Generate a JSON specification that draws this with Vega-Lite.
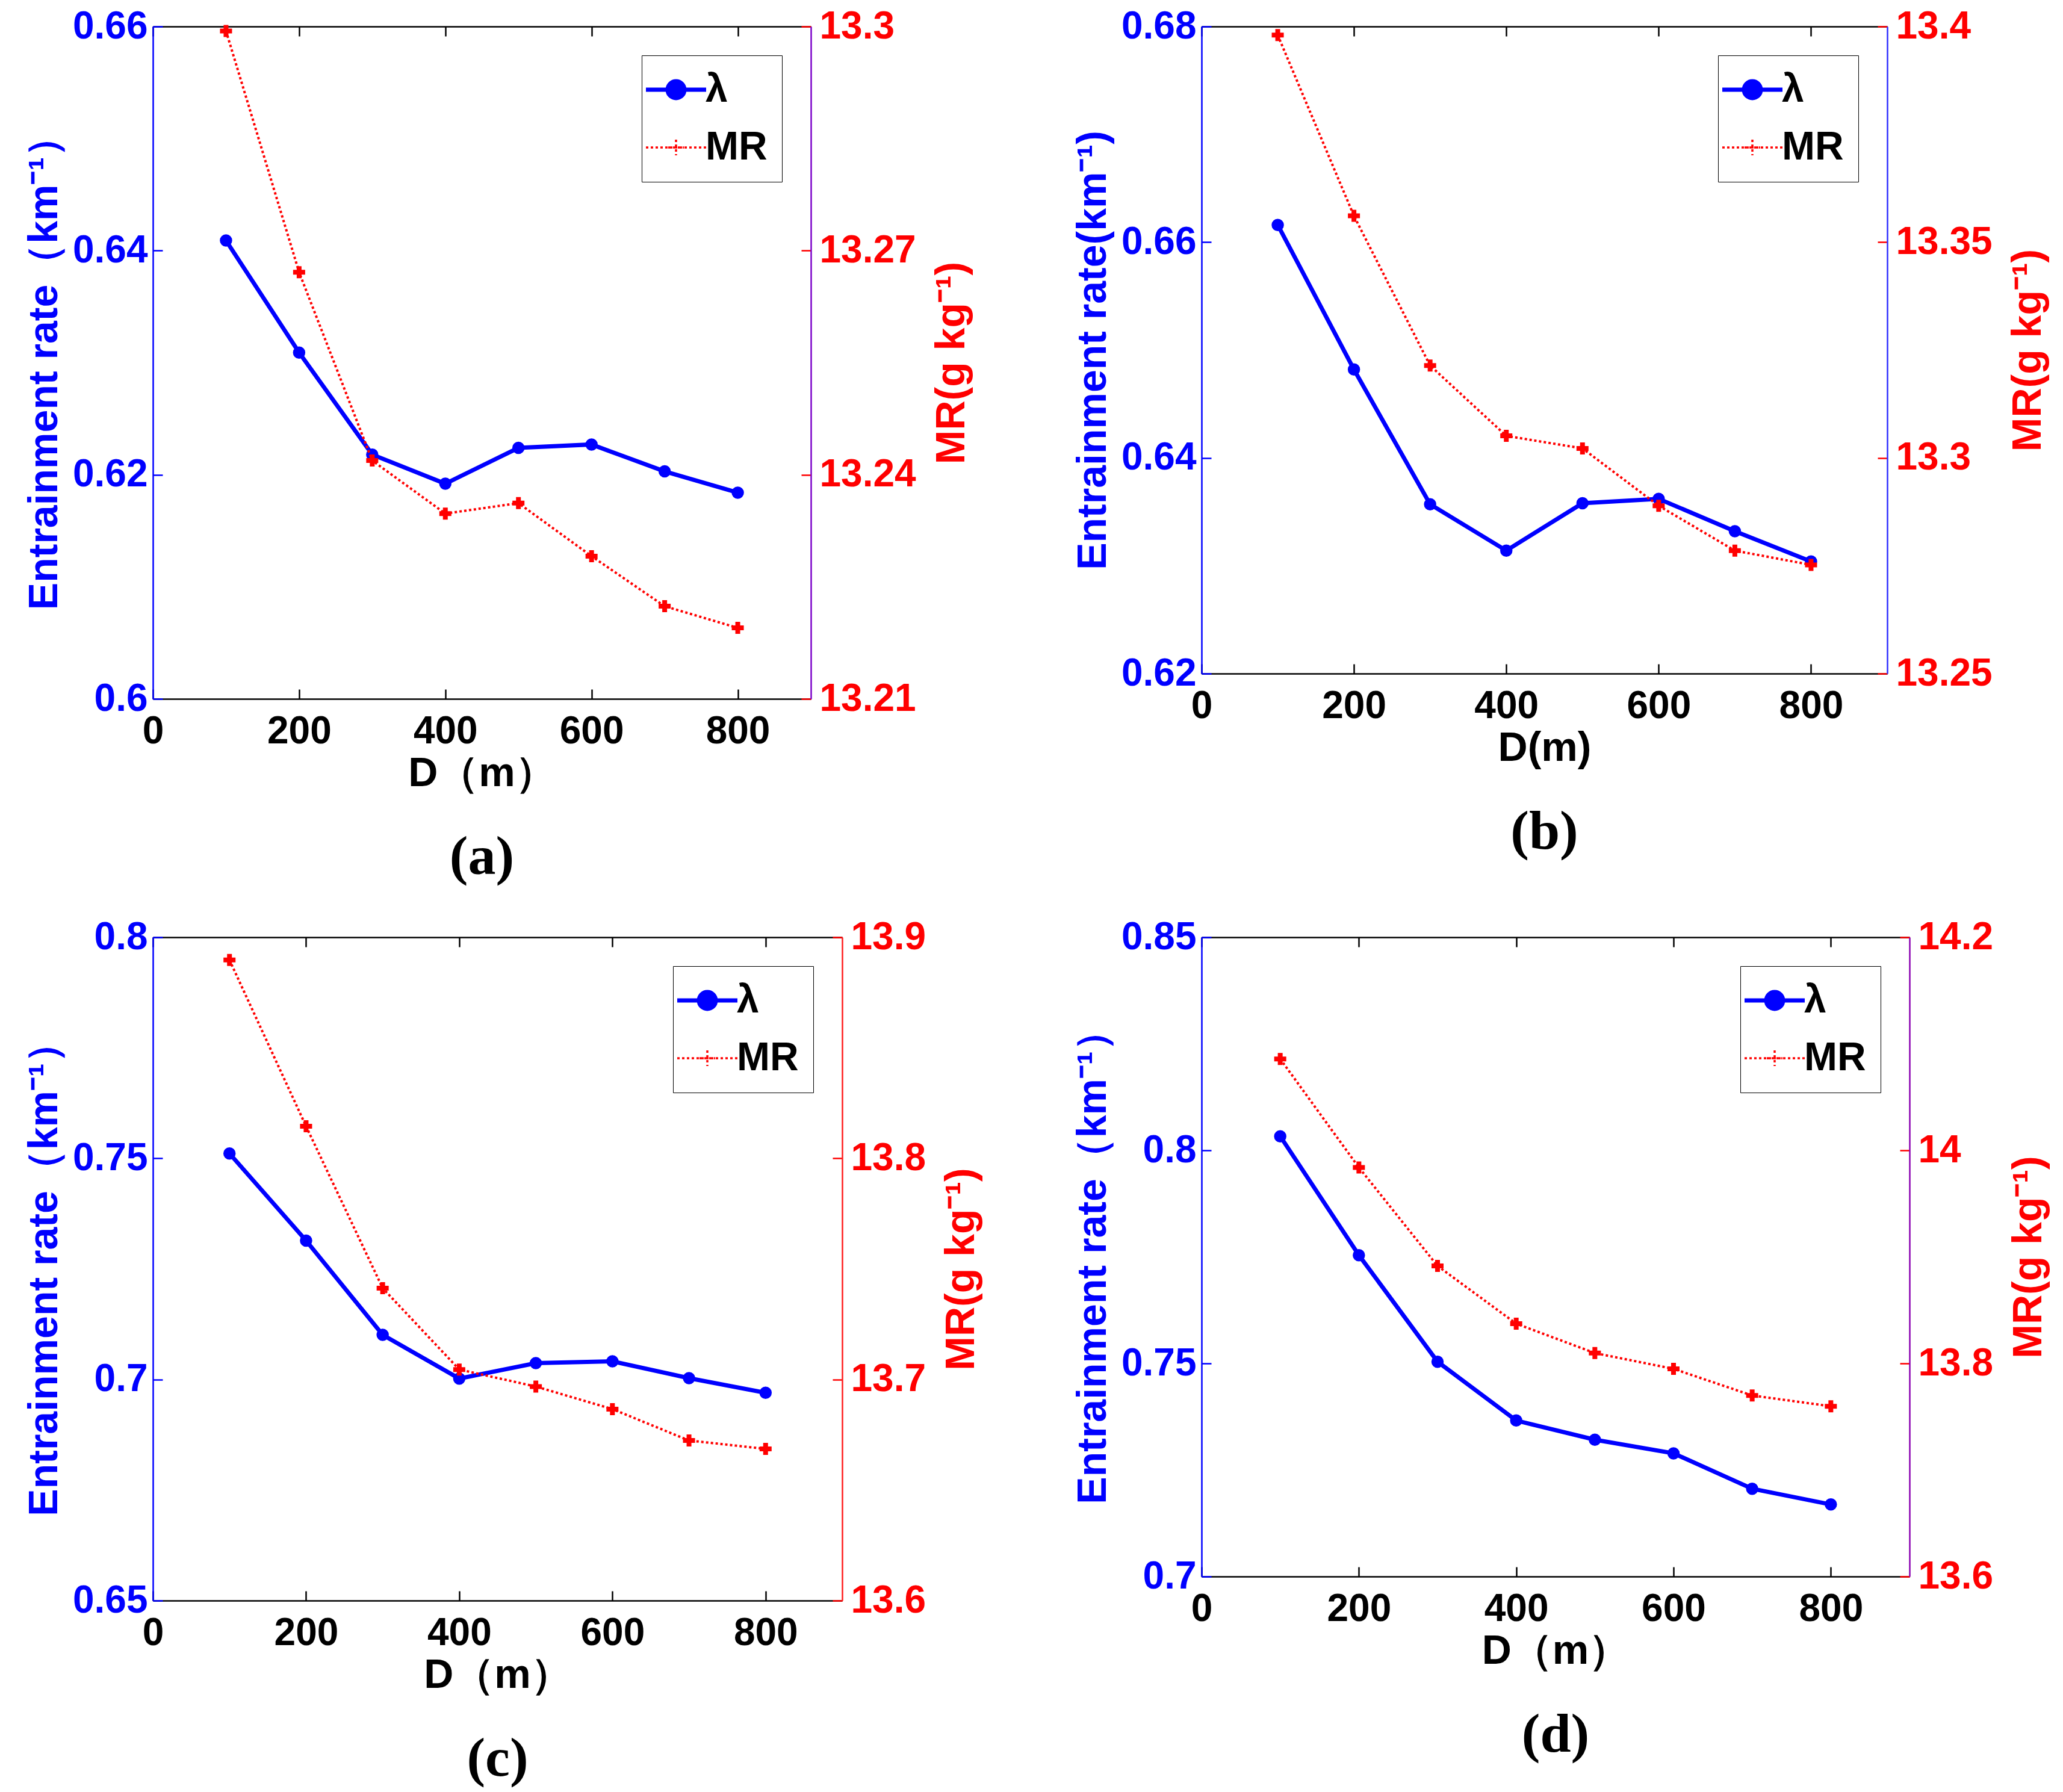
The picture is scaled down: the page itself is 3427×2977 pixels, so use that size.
{
  "$schema": "https://vega.github.io/schema/vega-lite/v6.json",
  "background": "#ffffff",
  "padding": {"left": 40, "top": 12, "right": 20, "bottom": 10},
  "config": {
    "view": {"stroke": null},
    "axis": {
      "grid": false,
      "labelFont": "Liberation Sans",
      "labelFontWeight": "bold",
      "labelFontSize": 64,
      "titleFont": "Liberation Sans",
      "titleFontWeight": "bold",
      "titleFontSize": 68,
      "tickSize": -16,
      "tickWidth": 2.5,
      "domainWidth": 2.5,
      "labelFlush": false,
      "labelOverlap": false
    },
    "title": {
      "font": "Liberation Serif",
      "fontWeight": "bold",
      "fontSize": 92,
      "color": "#000000",
      "orient": "bottom",
      "anchor": "middle",
      "frame": "group",
      "offset": 60
    },
    "legend": {
      "title": null,
      "orient": "top-right",
      "offset": 48,
      "padding": 24,
      "strokeColor": "#000000",
      "fillColor": "#ffffff",
      "labelFont": "Liberation Sans",
      "labelFontWeight": "bold",
      "labelFontSize": 66,
      "labelColor": "#000000",
      "symbolSize": 10000,
      "symbolStrokeWidth": 5,
      "rowPadding": 30,
      "labelOffset": 16
    }
  },
  "data": {
    "values": [
      {"panel": "a", "D": 100, "series": "λ", "value": 0.6409},
      {"panel": "a", "D": 200, "series": "λ", "value": 0.6309},
      {"panel": "a", "D": 300, "series": "λ", "value": 0.6218},
      {"panel": "a", "D": 400, "series": "λ", "value": 0.6192},
      {"panel": "a", "D": 500, "series": "λ", "value": 0.6224},
      {"panel": "a", "D": 600, "series": "λ", "value": 0.6227},
      {"panel": "a", "D": 700, "series": "λ", "value": 0.6203},
      {"panel": "a", "D": 800, "series": "λ", "value": 0.6184},
      {"panel": "a", "D": 100, "series": "MR", "value": 13.2994},
      {"panel": "a", "D": 200, "series": "MR", "value": 13.2671},
      {"panel": "a", "D": 300, "series": "MR", "value": 13.2419},
      {"panel": "a", "D": 400, "series": "MR", "value": 13.2348},
      {"panel": "a", "D": 500, "series": "MR", "value": 13.2362},
      {"panel": "a", "D": 600, "series": "MR", "value": 13.2291},
      {"panel": "a", "D": 700, "series": "MR", "value": 13.2224},
      {"panel": "a", "D": 800, "series": "MR", "value": 13.2195},
      {"panel": "b", "D": 100, "series": "λ", "value": 0.6616},
      {"panel": "b", "D": 200, "series": "λ", "value": 0.6482},
      {"panel": "b", "D": 300, "series": "λ", "value": 0.6357},
      {"panel": "b", "D": 400, "series": "λ", "value": 0.6314},
      {"panel": "b", "D": 500, "series": "λ", "value": 0.6358},
      {"panel": "b", "D": 600, "series": "λ", "value": 0.6362},
      {"panel": "b", "D": 700, "series": "λ", "value": 0.6332},
      {"panel": "b", "D": 800, "series": "λ", "value": 0.6304},
      {"panel": "b", "D": 100, "series": "MR", "value": 13.398},
      {"panel": "b", "D": 200, "series": "MR", "value": 13.3561},
      {"panel": "b", "D": 300, "series": "MR", "value": 13.3214},
      {"panel": "b", "D": 400, "series": "MR", "value": 13.3051},
      {"panel": "b", "D": 500, "series": "MR", "value": 13.3022},
      {"panel": "b", "D": 600, "series": "MR", "value": 13.2889},
      {"panel": "b", "D": 700, "series": "MR", "value": 13.2785},
      {"panel": "b", "D": 800, "series": "MR", "value": 13.2752},
      {"panel": "c", "D": 100, "series": "λ", "value": 0.7511},
      {"panel": "c", "D": 200, "series": "λ", "value": 0.7314},
      {"panel": "c", "D": 300, "series": "λ", "value": 0.7101},
      {"panel": "c", "D": 400, "series": "λ", "value": 0.7002},
      {"panel": "c", "D": 500, "series": "λ", "value": 0.7037},
      {"panel": "c", "D": 600, "series": "λ", "value": 0.7041},
      {"panel": "c", "D": 700, "series": "λ", "value": 0.7003},
      {"panel": "c", "D": 800, "series": "λ", "value": 0.697},
      {"panel": "c", "D": 100, "series": "MR", "value": 13.8897},
      {"panel": "c", "D": 200, "series": "MR", "value": 13.8145},
      {"panel": "c", "D": 300, "series": "MR", "value": 13.7413},
      {"panel": "c", "D": 400, "series": "MR", "value": 13.7045},
      {"panel": "c", "D": 500, "series": "MR", "value": 13.6968},
      {"panel": "c", "D": 600, "series": "MR", "value": 13.6866},
      {"panel": "c", "D": 700, "series": "MR", "value": 13.6724},
      {"panel": "c", "D": 800, "series": "MR", "value": 13.6686},
      {"panel": "d", "D": 100, "series": "λ", "value": 0.8033},
      {"panel": "d", "D": 200, "series": "λ", "value": 0.7754},
      {"panel": "d", "D": 300, "series": "λ", "value": 0.7504},
      {"panel": "d", "D": 400, "series": "λ", "value": 0.7366},
      {"panel": "d", "D": 500, "series": "λ", "value": 0.7321},
      {"panel": "d", "D": 600, "series": "λ", "value": 0.7289},
      {"panel": "d", "D": 700, "series": "λ", "value": 0.7206},
      {"panel": "d", "D": 800, "series": "λ", "value": 0.7169},
      {"panel": "d", "D": 100, "series": "MR", "value": 14.0858},
      {"panel": "d", "D": 200, "series": "MR", "value": 13.9839},
      {"panel": "d", "D": 300, "series": "MR", "value": 13.8915},
      {"panel": "d", "D": 400, "series": "MR", "value": 13.8373},
      {"panel": "d", "D": 500, "series": "MR", "value": 13.8097},
      {"panel": "d", "D": 600, "series": "MR", "value": 13.7949},
      {"panel": "d", "D": 700, "series": "MR", "value": 13.7699},
      {"panel": "d", "D": 800, "series": "MR", "value": 13.7598}
    ]
  },
  "columns": 2,
  "spacing": {"row": 55, "column": 150},
  "resolve": {"scale": {"color": "independent"}, "legend": {"color": "independent"}},
  "concat": [
    {
      "width": 1093,
      "height": 1117,
      "title": {"text": "(a)"},
      "transform": [{"filter": "datum.panel === 'a'"}],
      "layer": [
        {
          "transform": [{"filter": "datum.series === 'λ'"}],
          "mark": {"type": "line", "strokeWidth": 7, "point": {"filled": true, "size": 420}},
          "encoding": {
            "x": {"field": "D", "type": "quantitative", "scale": {"domain": [0, 900]},
              "axis": {"orient": "bottom", "values": [0, 200, 400, 600, 800], "title": "D（m）", "labelColor": "#000000", "domainColor": "#000000", "tickColor": "#000000", "titleColor": "#000000", "labelPadding": 38, "titlePadding": 4}},
            "y": {"field": "value", "type": "quantitative", "scale": {"domain": [0.6, 0.66], "zero": false},
              "axis": {"orient": "left", "values": [0.6, 0.62, 0.64, 0.66], "format": "~g", "title": "Entrainment rate（km⁻¹）", "titleColor": "#0000ff", "labelColor": "#0000ff", "domainColor": "#0000ff", "tickColor": "#0000ff", "labelPadding": 25, "titlePadding": 12}},
            "color": {"field": "series", "type": "nominal", "scale": {"domain": ["λ", "MR"], "range": ["#0000ff", "#ff0000"]},
              "legend": {"encode": {"symbols": {"update": {
                "shape": {"signal": "datum.value === 'λ' ? 'M-1,0H1M-0.28,0A0.28,0.28,0,1,0,0.28,0A0.28,0.28,0,1,0,-0.28,0Z' : 'M-1,0H1M-0.26,0H0.26M0,-0.26V0.26'"},
                "strokeDash": {"signal": "datum.value === 'MR' ? [4, 4] : []"},
                "strokeWidth": {"signal": "datum.value === 'MR' ? 3.5 : 7"},
                "fill": {"signal": "datum.value === 'λ' ? '#0000ff' : 'transparent'"}}}}}}
          }
        },
        {
          "transform": [{"filter": "datum.series === 'MR'"}],
          "mark": {"type": "line", "strokeWidth": 4, "strokeDash": [4, 4], "point": {"shape": "cross", "filled": true, "size": 400}},
          "encoding": {
            "x": {"field": "D", "type": "quantitative",
              "axis": {"orient": "top", "values": [0, 200, 400, 600, 800], "labels": false, "title": null, "domainColor": "#000000", "tickColor": "#000000"}},
            "y": {"field": "value", "type": "quantitative", "scale": {"domain": [13.21, 13.3], "zero": false},
              "axis": {"orient": "right", "values": [13.21, 13.24, 13.27, 13.3], "format": "~g", "title": "MR(g kg⁻¹)", "titleAngle": 270, "titleBaseline": "top", "titleColor": "#ff0000", "labelColor": "#ff0000", "domainColor": "#7a00c8", "tickColor": "#ff0000", "labelPadding": 30, "titlePadding": 26}},
            "color": {"field": "series", "type": "nominal"}
          }
        }
      ],
      "resolve": {"scale": {"y": "independent"}, "axis": {"x": "independent"}}
    },
    {
      "width": 1139,
      "height": 1075,
      "title": {"text": "(b)"},
      "transform": [{"filter": "datum.panel === 'b'"}],
      "layer": [
        {
          "transform": [{"filter": "datum.series === 'λ'"}],
          "mark": {"type": "line", "strokeWidth": 7, "point": {"filled": true, "size": 420}},
          "encoding": {
            "x": {"field": "D", "type": "quantitative", "scale": {"domain": [0, 900]},
              "axis": {"orient": "bottom", "values": [0, 200, 400, 600, 800], "title": "D(m)", "labelColor": "#000000", "domainColor": "#000000", "tickColor": "#000000", "titleColor": "#000000", "labelPadding": 38, "titlePadding": 4}},
            "y": {"field": "value", "type": "quantitative", "scale": {"domain": [0.62, 0.68], "zero": false},
              "axis": {"orient": "left", "values": [0.62, 0.64, 0.66, 0.68], "format": "~g", "title": "Entrainment rate(km⁻¹)", "titleColor": "#0000ff", "labelColor": "#0000ff", "domainColor": "#0000ff", "tickColor": "#0000ff", "labelPadding": 25, "titlePadding": 12}},
            "color": {"field": "series", "type": "nominal", "scale": {"domain": ["λ", "MR"], "range": ["#0000ff", "#ff0000"]},
              "legend": {"encode": {"symbols": {"update": {
                "shape": {"signal": "datum.value === 'λ' ? 'M-1,0H1M-0.28,0A0.28,0.28,0,1,0,0.28,0A0.28,0.28,0,1,0,-0.28,0Z' : 'M-1,0H1M-0.26,0H0.26M0,-0.26V0.26'"},
                "strokeDash": {"signal": "datum.value === 'MR' ? [4, 4] : []"},
                "strokeWidth": {"signal": "datum.value === 'MR' ? 3.5 : 7"},
                "fill": {"signal": "datum.value === 'λ' ? '#0000ff' : 'transparent'"}}}}}}
          }
        },
        {
          "transform": [{"filter": "datum.series === 'MR'"}],
          "mark": {"type": "line", "strokeWidth": 4, "strokeDash": [4, 4], "point": {"shape": "cross", "filled": true, "size": 400}},
          "encoding": {
            "x": {"field": "D", "type": "quantitative",
              "axis": {"orient": "top", "values": [0, 200, 400, 600, 800], "labels": false, "title": null, "domainColor": "#000000", "tickColor": "#000000"}},
            "y": {"field": "value", "type": "quantitative", "scale": {"domain": [13.25, 13.4], "zero": false},
              "axis": {"orient": "right", "values": [13.25, 13.3, 13.35, 13.4], "format": "~g", "title": "MR(g kg⁻¹)", "titleAngle": 270, "titleBaseline": "top", "titleColor": "#ff0000", "labelColor": "#ff0000", "domainColor": "#3030ff", "tickColor": "#ff0000", "labelPadding": 30, "titlePadding": 26}},
            "color": {"field": "series", "type": "nominal"}
          }
        }
      ],
      "resolve": {"scale": {"y": "independent"}, "axis": {"x": "independent"}}
    },
    {
      "width": 1145,
      "height": 1102,
      "title": {"text": "(c)"},
      "transform": [{"filter": "datum.panel === 'c'"}],
      "layer": [
        {
          "transform": [{"filter": "datum.series === 'λ'"}],
          "mark": {"type": "line", "strokeWidth": 7, "point": {"filled": true, "size": 420}},
          "encoding": {
            "x": {"field": "D", "type": "quantitative", "scale": {"domain": [0, 900]},
              "axis": {"orient": "bottom", "values": [0, 200, 400, 600, 800], "title": "D（m）", "labelColor": "#000000", "domainColor": "#000000", "tickColor": "#000000", "titleColor": "#000000", "labelPadding": 38, "titlePadding": 4}},
            "y": {"field": "value", "type": "quantitative", "scale": {"domain": [0.65, 0.8], "zero": false},
              "axis": {"orient": "left", "values": [0.65, 0.7, 0.75, 0.8], "format": "~g", "title": "Entrainment rate（km⁻¹）", "titleColor": "#0000ff", "labelColor": "#0000ff", "domainColor": "#0000ff", "tickColor": "#0000ff", "labelPadding": 25, "titlePadding": 12}},
            "color": {"field": "series", "type": "nominal", "scale": {"domain": ["λ", "MR"], "range": ["#0000ff", "#ff0000"]},
              "legend": {"encode": {"symbols": {"update": {
                "shape": {"signal": "datum.value === 'λ' ? 'M-1,0H1M-0.28,0A0.28,0.28,0,1,0,0.28,0A0.28,0.28,0,1,0,-0.28,0Z' : 'M-1,0H1M-0.26,0H0.26M0,-0.26V0.26'"},
                "strokeDash": {"signal": "datum.value === 'MR' ? [4, 4] : []"},
                "strokeWidth": {"signal": "datum.value === 'MR' ? 3.5 : 7"},
                "fill": {"signal": "datum.value === 'λ' ? '#0000ff' : 'transparent'"}}}}}}
          }
        },
        {
          "transform": [{"filter": "datum.series === 'MR'"}],
          "mark": {"type": "line", "strokeWidth": 4, "strokeDash": [4, 4], "point": {"shape": "cross", "filled": true, "size": 400}},
          "encoding": {
            "x": {"field": "D", "type": "quantitative",
              "axis": {"orient": "top", "values": [0, 200, 400, 600, 800], "labels": false, "title": null, "domainColor": "#000000", "tickColor": "#000000"}},
            "y": {"field": "value", "type": "quantitative", "scale": {"domain": [13.6, 13.9], "zero": false},
              "axis": {"orient": "right", "values": [13.6, 13.7, 13.8, 13.9], "format": "~g", "title": "MR(g kg⁻¹)", "titleAngle": 270, "titleBaseline": "top", "titleColor": "#ff0000", "labelColor": "#ff0000", "domainColor": "#ff2020", "tickColor": "#ff0000", "labelPadding": 30, "titlePadding": 26}},
            "color": {"field": "series", "type": "nominal"}
          }
        }
      ],
      "resolve": {"scale": {"y": "independent"}, "axis": {"x": "independent"}}
    },
    {
      "width": 1176,
      "height": 1062,
      "title": {"text": "(d)"},
      "transform": [{"filter": "datum.panel === 'd'"}],
      "layer": [
        {
          "transform": [{"filter": "datum.series === 'λ'"}],
          "mark": {"type": "line", "strokeWidth": 7, "point": {"filled": true, "size": 420}},
          "encoding": {
            "x": {"field": "D", "type": "quantitative", "scale": {"domain": [0, 900]},
              "axis": {"orient": "bottom", "values": [0, 200, 400, 600, 800], "title": "D（m）", "labelColor": "#000000", "domainColor": "#000000", "tickColor": "#000000", "titleColor": "#000000", "labelPadding": 38, "titlePadding": 4}},
            "y": {"field": "value", "type": "quantitative", "scale": {"domain": [0.7, 0.85], "zero": false},
              "axis": {"orient": "left", "values": [0.7, 0.75, 0.8, 0.85], "format": "~g", "title": "Entrainment rate（km⁻¹）", "titleColor": "#0000ff", "labelColor": "#0000ff", "domainColor": "#0000ff", "tickColor": "#0000ff", "labelPadding": 25, "titlePadding": 12}},
            "color": {"field": "series", "type": "nominal", "scale": {"domain": ["λ", "MR"], "range": ["#0000ff", "#ff0000"]},
              "legend": {"encode": {"symbols": {"update": {
                "shape": {"signal": "datum.value === 'λ' ? 'M-1,0H1M-0.28,0A0.28,0.28,0,1,0,0.28,0A0.28,0.28,0,1,0,-0.28,0Z' : 'M-1,0H1M-0.26,0H0.26M0,-0.26V0.26'"},
                "strokeDash": {"signal": "datum.value === 'MR' ? [4, 4] : []"},
                "strokeWidth": {"signal": "datum.value === 'MR' ? 3.5 : 7"},
                "fill": {"signal": "datum.value === 'λ' ? '#0000ff' : 'transparent'"}}}}}}
          }
        },
        {
          "transform": [{"filter": "datum.series === 'MR'"}],
          "mark": {"type": "line", "strokeWidth": 4, "strokeDash": [4, 4], "point": {"shape": "cross", "filled": true, "size": 400}},
          "encoding": {
            "x": {"field": "D", "type": "quantitative",
              "axis": {"orient": "top", "values": [0, 200, 400, 600, 800], "labels": false, "title": null, "domainColor": "#000000", "tickColor": "#000000"}},
            "y": {"field": "value", "type": "quantitative", "scale": {"domain": [13.6, 14.2], "zero": false},
              "axis": {"orient": "right", "values": [13.6, 13.8, 14, 14.2], "format": "~g", "title": "MR(g kg⁻¹)", "titleAngle": 270, "titleBaseline": "top", "titleColor": "#ff0000", "labelColor": "#ff0000", "domainColor": "#8a00b0", "tickColor": "#ff0000", "labelPadding": 30, "titlePadding": 26}},
            "color": {"field": "series", "type": "nominal"}
          }
        }
      ],
      "resolve": {"scale": {"y": "independent"}, "axis": {"x": "independent"}}
    }
  ]
}
